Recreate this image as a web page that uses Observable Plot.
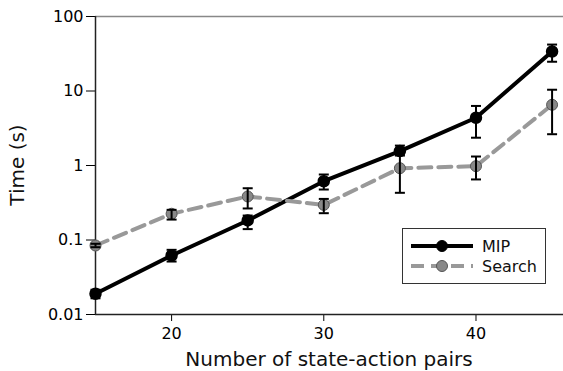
<!DOCTYPE html>
<html>
<head>
<meta charset="utf-8">
<script src="https://cdn.jsdelivr.net/npm/d3@7"></script>
<script src="https://cdn.jsdelivr.net/npm/@observablehq/plot@0.6"></script>
<style>
  html, body { margin: 0; padding: 0; background: #fff; }
  #chart { width: 563px; height: 371px; }
  svg { font-family: "DejaVu Sans", sans-serif; }
</style>
</head>
<body>
<div id="chart"></div>
<script>
// Data
const pairs = [15, 20, 25, 30, 35, 40, 45];
const mipMean = [0.019, 0.062, 0.183, 0.615, 1.56, 4.37, 33.9];
const mipLow  = [0.0165, 0.0514, 0.14, 0.476, 1.36, 2.36, 24.7];
const mipHigh = [0.0215, 0.0738, 0.213, 0.757, 1.85, 6.3, 42];
const searchMean = [0.0844, 0.225, 0.384, 0.296, 0.92, 0.98, 6.53];
const searchLow  = [0.08, 0.188, 0.265, 0.229, 0.43, 0.65, 2.63];
const searchHigh = [0.089, 0.254, 0.495, 0.356, 1.45, 1.32, 10.4];
const seriesNames = ["MIP", "Search"];
const xTicks = [20, 30, 40];
const yTicks = [0.01, 0.1, 1, 10, 100];
const yTickLabels = ["0.01", "0.1", "1", "10", "100"];
const xLabel = "Number of state-action pairs";
const yLabel = "Time (s)";

const mip = pairs.map((x, i) => ({x, y: mipMean[i], lo: mipLow[i], hi: mipHigh[i]}));
const search = pairs.map((x, i) => ({x, y: searchMean[i], lo: searchLow[i], hi: searchHigh[i]}));

const capSymbol = {
  draw(context) {
    context.moveTo(-5, 0);
    context.lineTo(5, 0);
  }
};

function errorMarks(data) {
  return [
    Plot.ruleX(data, {x: "x", y1: "lo", y2: "hi", stroke: "black", strokeWidth: 2}),
    Plot.dot(data, {x: "x", y: "lo", symbol: capSymbol, stroke: "black", strokeWidth: 2, fill: "none"}),
    Plot.dot(data, {x: "x", y: "hi", symbol: capSymbol, stroke: "black", strokeWidth: 2, fill: "none"})
  ];
}

const plot = Plot.plot({
  width: 563,
  height: 371,
  marginLeft: 95,
  marginRight: 0,
  marginTop: 16,
  marginBottom: 57,
  style: {fontFamily: "DejaVu Sans, sans-serif", fontSize: "16px", background: "white", color: "black"},
  x: {domain: [15, 45.75], ticks: xTicks, tickSize: 7, tickPadding: 6, label: null},
  y: {type: "log", domain: [0.01, 100], ticks: yTicks, tickSize: 9, tickPadding: 3, label: null,
      tickFormat: d => yTickLabels[yTicks.indexOf(d)] ?? ""},
  marks: [
    Plot.ruleY([100], {stroke: "#888", strokeWidth: 1.5}),
    Plot.ruleX([15], {stroke: "#222", strokeWidth: 1.5}),
    Plot.ruleY([0.01], {stroke: "#222", strokeWidth: 1.5}),
    Plot.line(mip, {x: "x", y: "y", stroke: "black", strokeWidth: 4}),
    Plot.dot(mip, {x: "x", y: "y", r: 5.5, fill: "black", stroke: "black"}),
    ...errorMarks(mip),
    Plot.line(search, {x: "x", y: "y", stroke: "#999", strokeWidth: 4, strokeDasharray: "13,7"}),
    Plot.dot(search, {x: "x", y: "y", r: 5.5, fill: "#888", stroke: "#555", strokeWidth: 1}),
    ...errorMarks(search)
  ]
});

const svg = d3.select(plot);

// Axis titles
svg.append("text")
  .attr("x", 329).attr("y", 366)
  .attr("text-anchor", "middle")
  .style("font-size", "20px").attr("fill", "#111")
  .text(xLabel);
svg.append("text")
  .attr("transform", "translate(17,165) rotate(-90)")
  .attr("text-anchor", "middle")
  .attr("dominant-baseline", "central")
  .style("font-size", "20px").attr("fill", "#111")
  .text(yLabel);

// Legend
const lg = svg.append("g").attr("text-anchor", "start");
lg.append("rect").attr("x", 402.5).attr("y", 228.5).attr("width", 143).attr("height", 55)
  .attr("fill", "white").attr("stroke", "#333").attr("stroke-width", 1);
const legendItems = [
  {name: seriesNames[0], stroke: "black", dash: null, fill: "black", edge: "black", y: 246},
  {name: seriesNames[1], stroke: "#999", dash: "13,7", fill: "#888", edge: "#555", y: 266}
];
for (const it of legendItems) {
  lg.append("line").attr("x1", 411).attr("x2", 473).attr("y1", it.y).attr("y2", it.y)
    .attr("stroke", it.stroke).attr("stroke-width", 4).attr("stroke-dasharray", it.dash);
  lg.append("circle").attr("cx", 442).attr("cy", it.y).attr("r", 5.5)
    .attr("fill", it.fill).attr("stroke", it.edge);
  lg.append("text").attr("x", 482).attr("y", it.y).attr("dominant-baseline", "central")
    .attr("text-anchor", "start")
    .style("font-size", "16px").attr("fill", "#111").text(it.name);
}

document.getElementById("chart").appendChild(plot);
</script>
</body>
</html>
